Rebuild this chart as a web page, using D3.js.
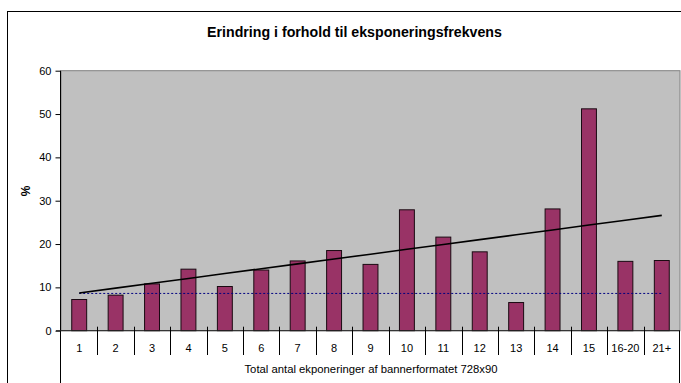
<!DOCTYPE html>
<html>
<head>
<meta charset="utf-8">
<script src="https://cdn.jsdelivr.net/npm/d3@7"></script>
<style>
  html, body { margin: 0; padding: 0; background: #fff; }
  svg { display: block; font-family: "Liberation Sans", Arial, sans-serif; }
</style>
</head>
<body>
<svg id="chart" width="681" height="383"></svg>
<script>
// Exposure buckets and recall (%) per bucket
const categories = ["1","2","3","4","5","6","7","8","9","10","11","12","13","14","15","16-20","21+"];
const recall = [7.2, 8.2, 10.8, 14.2, 10.2, 14.0, 16.1, 18.5, 15.3, 27.9, 21.6, 18.2, 6.5, 28.1, 51.2, 16.0, 16.2];
const baseline = 8.6;            // reference level drawn as dotted line
const yTicks = [0, 10, 20, 30, 40, 50, 60];
const titleText = "Erindring i forhold til eksponeringsfrekvens";
const xTitleText = "Total antal ekponeringer af bannerformatet 728x90";
const yTitleText = "%";

const svg = d3.select("#chart");
const plot = { left: 61, right: 680, top: 70.7, bottom: 330.7 };

// Outer chart frame (runs past the right and bottom edges)
svg.append("rect")
  .attr("x", 7.5).attr("y", 11.5)
  .attr("width", 800).attr("height", 500)
  .attr("fill", "#fff").attr("stroke", "#000").attr("stroke-width", 1);

// Title
svg.append("text")
  .attr("x", 354.5).attr("y", 36.7)
  .attr("text-anchor", "middle")
  .attr("font-size", 14.2).attr("font-weight", "bold")
  .text(titleText);

const x = d3.scaleBand()
  .domain(categories)
  .range([plot.left, plot.right])
  .paddingInner(0.59)
  .paddingOuter(0.295);

const xCat = d3.scaleBand()
  .domain(categories)
  .range([plot.left, plot.right]);

const y = d3.scaleLinear().domain([0, 60]).range([plot.bottom, plot.top]);

// Plot area
svg.append("rect")
  .attr("x", plot.left).attr("y", plot.top)
  .attr("width", plot.right - plot.left).attr("height", plot.bottom - plot.top)
  .attr("fill", "#c0c0c0").attr("stroke", "#808080").attr("stroke-width", 1);

// Bars
svg.append("g").selectAll("rect")
  .data(recall)
  .join("rect")
  .attr("x", (d, i) => x(categories[i]))
  .attr("y", d => y(d))
  .attr("width", x.bandwidth())
  .attr("height", d => y(0) - y(d))
  .attr("fill", "#993366")
  .attr("stroke", "#1a0a12")
  .attr("stroke-width", 1);

const cx = i => xCat(categories[i]) + xCat.bandwidth() / 2;

// Baseline dotted line
svg.append("line")
  .attr("x1", cx(0)).attr("x2", cx(categories.length - 1))
  .attr("y1", y(baseline)).attr("y2", y(baseline))
  .attr("stroke", "#000080").attr("stroke-width", 1)
  .attr("stroke-dasharray", "2,2");

// Linear trend (least squares over bucket index)
const n = recall.length;
const xs = d3.range(1, n + 1);
const mx = d3.mean(xs), my = d3.mean(recall);
const slope = d3.sum(xs, (v, i) => (v - mx) * (recall[i] - my)) / d3.sum(xs, v => (v - mx) * (v - mx));
const intercept = my - slope * mx;
const trend = xs.map((v, i) => [cx(i), y(intercept + slope * v)]);
svg.append("path")
  .attr("d", d3.line()(trend))
  .attr("fill", "none")
  .attr("stroke", "#000").attr("stroke-width", 1.6);

// Y axis
const yAxis = svg.append("g")
  .attr("transform", `translate(${plot.left - 0.5},0)`)
  .call(d3.axisLeft(y).tickValues(yTicks).tickSize(5).tickPadding(4));
yAxis.select(".domain").remove();
yAxis.selectAll(".tick line").attr("stroke", "#000");
yAxis.selectAll("text").attr("font-size", 11).attr("font-family", "Liberation Sans, Arial, sans-serif").attr("fill", "#000");

// Axis lines
svg.append("line")
  .attr("x1", plot.left - 0.5).attr("x2", plot.left - 0.5)
  .attr("y1", plot.top).attr("y2", 383)
  .attr("stroke", "#000");
svg.append("line")
  .attr("x1", plot.left - 5).attr("x2", plot.right)
  .attr("y1", plot.bottom).attr("y2", plot.bottom)
  .attr("stroke", "#222");
svg.append("line")
  .attr("x1", plot.right - 0.5).attr("x2", plot.right - 0.5)
  .attr("y1", plot.bottom).attr("y2", 383)
  .attr("stroke", "#000");

// Category separators
svg.append("g").selectAll("line")
  .data(categories.slice(1))
  .join("line")
  .attr("x1", d => Math.round(xCat(d)) + 0.5)
  .attr("x2", d => Math.round(xCat(d)) + 0.5)
  .attr("y1", plot.bottom - 4).attr("y2", 355)
  .attr("stroke", "#000");

// Category labels
svg.append("g").selectAll("text")
  .data(categories)
  .join("text")
  .attr("x", (d, i) => cx(i))
  .attr("y", 351.5)
  .attr("text-anchor", "middle")
  .attr("font-size", 11)
  .text(d => d);

// Axis titles
svg.append("text")
  .attr("x", 371).attr("y", 373)
  .attr("text-anchor", "middle")
  .attr("font-size", 11.3)
  .text(xTitleText);

svg.append("text")
  .attr("transform", "translate(30,191) rotate(-90)")
  .attr("text-anchor", "middle")
  .attr("font-size", 12).attr("font-weight", "bold")
  .text(yTitleText);
</script>
</body>
</html>
